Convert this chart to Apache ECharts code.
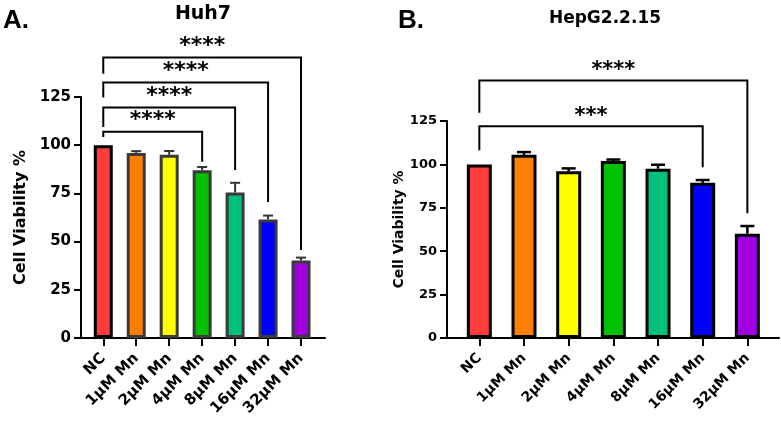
<!DOCTYPE html>
<html>
<head>
<meta charset="utf-8">
<script src="https://cdn.jsdelivr.net/npm/echarts@6/dist/echarts.min.js"></script>
<style>
  html, body { margin: 0; padding: 0; background: #fff; }
  #chart { width: 781px; height: 421px; }
</style>
</head>
<body>
<div id="chart"></div>
<script>
// Cell viability after Mn treatment - two panels
var categories = ['NC', '1µM Mn', '2µM Mn', '4µM Mn', '8µM Mn', '16µM Mn', '32µM Mn'];
var barColors = ['#ff3c3c', '#ff8000', '#ffff00', '#00c000', '#00c07c', '#0000ff', '#a000e0'];

var huh7Mean = [100, 96, 95, 87, 75.5, 61.5, 40.2];
var huh7Err = [0, 0.9, 2, 1.7, 5, 2, 1.5];
var hepMean = [100, 105.5, 96, 102, 97.5, 89.4, 60];
var hepErr = [0, 1.6, 1.7, 0.8, 2.3, 1.6, 4.5];

// significance brackets: [from, to], level, left leg end, right leg end (data units)
var huh7Pairs = [[0, 3], [0, 4], [0, 5], [0, 6]];
var huh7Stars = ['****', '****', '****', '****'];
var huh7Level = [107, 119.5, 132.5, 145.5];
var huh7LegL = [104.2, 109.5, 124.7, 137.1];
var huh7LegR = [91.4, 87.1, 70.5, 45.7];

var hepPairs = [[0, 5], [0, 6]];
var hepStars = ['***', '****'];
var hepLevel = [122, 148.4];
var hepLegL = [108.2, 129.7];
var hepLegR = [98.3, 71.8];

var FONT = 'DejaVu Sans';

function barData(mean, borderOf) {
  return mean.map(function(v, i) {
    return { value: v, itemStyle: { color: barColors[i], borderColor: borderOf(i) } };
  });
}

function errData(mean, err) {
  return mean.map(function(v, i) { return [i, v, err[i]]; });
}

function bracketData(pairs, level, legL, legR) {
  return pairs.map(function(p, i) { return [p[0], p[1], level[i], legL[i], legR[i]]; });
}

function errRender(capHalf, lw, color) {
  return function(params, api) {
    var e = api.value(2);
    if (!e) return null;
    var base = api.coord([api.value(0), api.value(1)]);
    var top = api.coord([api.value(0), api.value(1) + e]);
    var st = { stroke: color, lineWidth: lw };
    return {
      type: 'group',
      children: [
        { type: 'line', shape: { x1: base[0], y1: base[1], x2: top[0], y2: top[1] }, style: st },
        { type: 'line', shape: { x1: top[0] - capHalf, y1: top[1], x2: top[0] + capHalf, y2: top[1] }, style: st }
      ]
    };
  };
}

function bracketRender(stars, fontSize, lift) {
  return function(params, api) {
    var a = api.value(0), b = api.value(1), lev = api.value(2);
    var p1 = api.coord([a, api.value(3)]);
    var p2 = api.coord([a, lev]);
    var p3 = api.coord([b, lev]);
    var p4 = api.coord([b, api.value(4)]);
    return {
      type: 'group',
      children: [
        { type: 'polyline', shape: { points: [p1, p2, p3, p4] },
          style: { stroke: '#000', lineWidth: 2, fill: null } },
        { type: 'text', x: (p2[0] + p3[0]) / 2, y: p2[1] - lift,
          style: { text: stars[params.dataIndex], fill: '#000',
                   font: 'bold ' + fontSize + 'px "' + FONT + '"', align: 'center', verticalAlign: 'middle' } }
      ]
    };
  };
}

// frame axis: only the long baseline
function frameXAxis(gridIndex) {
  return {
    type: 'value', gridIndex: gridIndex, min: 0, max: 1,
    axisLine: { show: true, onZero: false, lineStyle: { color: '#000', width: 2 } },
    axisTick: { show: false }, axisLabel: { show: false }, splitLine: { show: false }
  };
}

// category axis over the bars: ticks and labels
function catXAxis(gridIndex, fontSize) {
  return {
    type: 'category', gridIndex: gridIndex, data: categories,
    axisLine: { show: false, onZero: false },
    axisTick: { show: true, alignWithLabel: true, length: 8, lineStyle: { color: '#000', width: 2 } },
    axisLabel: {
      rotate: 45, margin: 18, interval: 0,
      color: '#000', fontFamily: FONT, fontWeight: 'bold', fontSize: fontSize
    },
    splitLine: { show: false }
  };
}

function yAxisFor(gridIndex, fontSize, nameSize, nameGap) {
  return {
    type: 'value', gridIndex: gridIndex, min: 0, max: 125, interval: 25,
    name: 'Cell Viability %', nameLocation: 'middle', nameRotate: 90, nameGap: nameGap,
    nameTextStyle: { color: '#000', fontFamily: FONT, fontWeight: 'bold', fontSize: nameSize },
    axisLine: { show: true, onZero: false, lineStyle: { color: '#000', width: 2 } },
    axisTick: { show: true, length: 7, lineStyle: { color: '#000', width: 2 } },
    axisLabel: { color: '#000', fontFamily: FONT, fontWeight: 'bold', fontSize: fontSize, margin: 10 },
    splitLine: { show: false }
  };
}

function hiddenYAxis(gridIndex) {
  return { type: 'value', gridIndex: gridIndex, min: 0, max: 125, show: false };
}

var chart = echarts.init(document.getElementById('chart'));
chart.setOption({
  animation: false,
  backgroundColor: '#fff',
  grid: [
    { left: 81, top: 97, width: 244, height: 241 },
    { left: 86.8, top: 97, width: 230.7, height: 241 },
    { left: 447, top: 121, width: 332, height: 217 },
    { left: 457, top: 121, width: 312.7, height: 217 }
  ],
  xAxis: [
    frameXAxis(0),
    catXAxis(1, 15),
    frameXAxis(2),
    catXAxis(3, 14)
  ],
  yAxis: [
    yAxisFor(0, 15, 16, 52),
    hiddenYAxis(1),
    yAxisFor(2, 13, 14, 38),
    hiddenYAxis(3)
  ],
  graphic: [
    { type: 'text', left: 3, top: 8, style: { text: 'A.', fill: '#000', font: 'bold 26px "Liberation Sans"' } },
    { type: 'text', left: 398, top: 8, style: { text: 'B.', fill: '#000', font: 'bold 26px "Liberation Sans"' } },
    { type: 'text', x: 203, y: 14, style: { text: 'Huh7', fill: '#000', font: 'bold 19px "' + FONT + '"', align: 'center', verticalAlign: 'middle' } },
    { type: 'text', x: 605, y: 19, style: { text: 'HepG2.2.15', fill: '#000', font: 'bold 17px "' + FONT + '"', align: 'center', verticalAlign: 'middle' } }
  ],
  series: [
    {
      type: 'bar', xAxisIndex: 1, yAxisIndex: 1, barWidth: 19,
      itemStyle: { borderWidth: 3 },
      data: barData(huh7Mean, function(i) { return i === 0 ? '#000' : '#3a3a3a'; })
    },
    {
      type: 'custom', xAxisIndex: 1, yAxisIndex: 1,
      renderItem: errRender(5, 2, '#333'),
      data: errData(huh7Mean, huh7Err), z: 3
    },
    {
      type: 'custom', xAxisIndex: 1, yAxisIndex: 1,
      renderItem: bracketRender(huh7Stars, 22, 11),
      data: bracketData(huh7Pairs, huh7Level, huh7LegL, huh7LegR)
    },
    {
      type: 'bar', xAxisIndex: 3, yAxisIndex: 3, barWidth: 25,
      itemStyle: { borderWidth: 3 },
      data: barData(hepMean, function() { return '#000'; })
    },
    {
      type: 'custom', xAxisIndex: 3, yAxisIndex: 3,
      renderItem: errRender(7, 2.5, '#000'),
      data: errData(hepMean, hepErr), z: 3
    },
    {
      type: 'custom', xAxisIndex: 3, yAxisIndex: 3,
      renderItem: bracketRender(hepStars, 21, 10),
      data: bracketData(hepPairs, hepLevel, hepLegL, hepLegR)
    }
  ]
});
</script>
</body>
</html>
